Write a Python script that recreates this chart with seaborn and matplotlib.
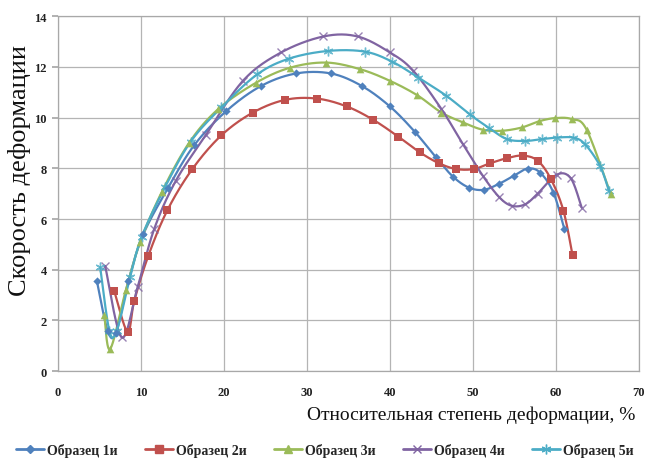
import numpy as np
import pandas as pd
import matplotlib
matplotlib.use("Agg")
import matplotlib.pyplot as plt
from matplotlib.lines import Line2D
import seaborn as sns

# ---- data ----
x1 = [4.7, 6.0, 7.0, 8.5, 10.3, 13.3, 16.4, 20.3, 24.5, 28.7, 32.9, 36.6, 40.0, 43.0, 45.5,
      47.6, 49.5, 51.3, 53.1, 54.9, 56.6, 58.1, 59.7, 61.0]
y1 = [3.56, 1.6, 1.5, 3.56, 5.4, 7.24, 8.9, 10.26, 11.25, 11.74, 11.74, 11.25, 10.44, 9.44, 8.45,
      7.67, 7.24, 7.15, 7.38, 7.70, 7.99, 7.83, 7.04, 5.62]

x2 = [6.8, 8.4, 9.2, 10.9, 13.2, 16.2, 19.7, 23.5, 27.4, 31.2, 34.8, 38.0, 41.0, 43.6, 45.9,
      48.0, 50.1, 52.0, 54.1, 56.0, 57.8, 59.4, 60.9, 62.0]
y2 = [3.15, 1.55, 2.77, 4.55, 6.35, 7.97, 9.3, 10.2, 10.7, 10.75, 10.44, 9.91, 9.25, 8.63, 8.2,
      7.97, 7.97, 8.19, 8.4, 8.5, 8.3, 7.57, 6.33, 4.57]

x3 = [5.6, 6.3, 8.2, 9.9, 12.5, 15.8, 19.3, 23.9, 28.0, 32.3, 36.4, 40.0, 43.3, 46.2, 48.8,
      51.2, 53.5, 55.9, 57.9, 59.9, 61.9, 63.7, 66.6]
y3 = [2.2, 0.87, 3.2, 5.08, 7.05, 9.0, 10.33, 11.38, 11.97, 12.17, 11.91, 11.45, 10.88, 10.2, 9.81,
      9.52, 9.48, 9.61, 9.85, 9.98, 9.94, 9.52, 6.98]

x4 = [5.7, 7.7, 9.6, 11.6, 14.2, 17.8, 22.3, 26.9, 32.0, 36.1, 40.0, 42.8, 46.2, 48.8, 51.2,
      53.2, 54.7, 56.3, 57.8, 60.1, 61.8, 63.1]
y4 = [4.15, 1.33, 3.3, 5.6, 7.5, 9.3, 11.45, 12.57, 13.2, 13.2, 12.57, 11.85, 10.34, 8.95, 7.7,
      6.85, 6.52, 6.58, 7.0, 7.75, 7.6, 6.45]

x5 = [5.1, 6.2, 7.1, 8.7, 10.1, 12.9, 16.0, 19.7, 24.0, 27.9, 32.6, 37.0, 40.3, 43.4, 46.8,
      49.6, 51.9, 54.1, 56.3, 58.3, 60.1, 62.1, 63.5, 65.3, 66.4]
y5 = [4.1, 1.6, 1.6, 3.7, 5.3, 7.25, 9.05, 10.4, 11.7, 12.33, 12.63, 12.6, 12.2, 11.58, 10.86,
      10.13, 9.6, 9.15, 9.08, 9.15, 9.21, 9.21, 8.95, 8.1, 7.1]

labels = ["Образец 1и", "Образец 2и", "Образец 3и", "Образец 4и", "Образец 5и"]
colors = ["#4F81BD", "#C0504D", "#9BBB59", "#8064A2", "#4BACC6"]
markers = ["D", "s", "^", "x", (6, 2, 0)]
msizes = [4.2, 6.0, 5.5, 6.0, 7.0]

xticks = [0, 10, 20, 30, 40, 50, 60, 70]
yticks = [0, 2, 4, 6, 8, 10, 12, 14]
xlabel = "Относительная степень деформации, %"
ylabel = "Скорость деформации"


def smooth_curve(x, y, n=24):
    """Excel-like smoothed line (Catmull-Rom Bezier through the data points)."""
    P = np.column_stack([x, y]).astype(float)
    out = []
    m = len(P)
    t = np.linspace(0, 1, n)[:, None]
    for i in range(m - 1):
        p0 = P[i - 1] if i > 0 else P[i]
        p1 = P[i]
        p2 = P[i + 1]
        p3 = P[i + 2] if i + 2 < m else P[i + 1]
        c1 = p1 + (p2 - p0) / 6.0
        c2 = p2 - (p3 - p1) / 6.0
        seg = ((1 - t) ** 3) * p1 + 3 * ((1 - t) ** 2) * t * c1 + 3 * (1 - t) * t ** 2 * c2 + t ** 3 * p2
        out.append(seg if i == 0 else seg[1:])
    out = np.vstack(out)
    return out[:, 0], out[:, 1]


sns.set_theme(style="whitegrid")
plt.rcParams["font.family"] = ["Liberation Serif", "DejaVu Serif"]

fig = plt.figure(figsize=(6.5, 4.64), dpi=100)
ax = fig.add_axes([0.089, 0.198, 0.894, 0.765])

series = [(x1, y1), (x2, y2), (x3, y3), (x4, y4), (x5, y5)]
handles = []
for (xs, ys), lab, col, mk, ms in zip(series, labels, colors, markers, msizes):
    sx, sy = smooth_curve(xs, ys)
    sns.lineplot(x=sx, y=sy, sort=False, estimator=None, color=col, linewidth=1.6, ax=ax)
    df = pd.DataFrame({"x": xs, "y": ys})
    if mk in ("x", (6, 2, 0)):
        ax.plot(df["x"], df["y"], linestyle="none", marker=mk, markersize=ms,
                color=col, markeredgewidth=1.0, alpha=0.8)
    else:
        sns.scatterplot(data=df, x="x", y="y", marker=mk, s=ms ** 2, color=col,
                        edgecolor=col, linewidth=0, ax=ax, zorder=3)
    handles.append(Line2D([0], [0], color=col, linewidth=2, marker=mk, markersize=ms,
                          markeredgecolor=col, markerfacecolor=col))

ax.set_xlim(0, 70)
ax.set_ylim(0, 14)
ax.set_xticks(xticks)
ax.set_yticks(yticks)
ax.set_xticklabels([str(v) for v in xticks], fontsize=9, fontweight="bold", color="#222222")
ax.set_yticklabels([str(v) for v in yticks], fontsize=9, fontweight="bold", color="#222222")
ax.grid(True, color="#b4b4b4", linewidth=0.9)
for s in ax.spines.values():
    s.set_color("#a8a8a8")
    s.set_linewidth(0.9)
ax.tick_params(axis="y", which="both", left=True, length=4, color="#a8a8a8", pad=4)
ax.tick_params(axis="x", which="both", bottom=False, pad=5)
ax.set_xlabel("")
ax.set_ylabel("")
ax.set_facecolor("white")

fig.text(0.977, 0.104, xlabel, ha="right", va="center", fontsize=14, color="#111111")
fig.text(0.030, 0.632, ylabel, ha="center", va="center", rotation=90, fontsize=19, color="#111111")

fig.legend(handles, labels, loc="center", bbox_to_anchor=(0.5, 0.028), ncol=5, frameon=False,
           prop={"family": ["Liberation Serif"], "weight": "bold", "size": 10},
           handlelength=2.0, handletextpad=0.2, columnspacing=2.0)

fig.savefig("out.png", dpi=100, facecolor="white")
